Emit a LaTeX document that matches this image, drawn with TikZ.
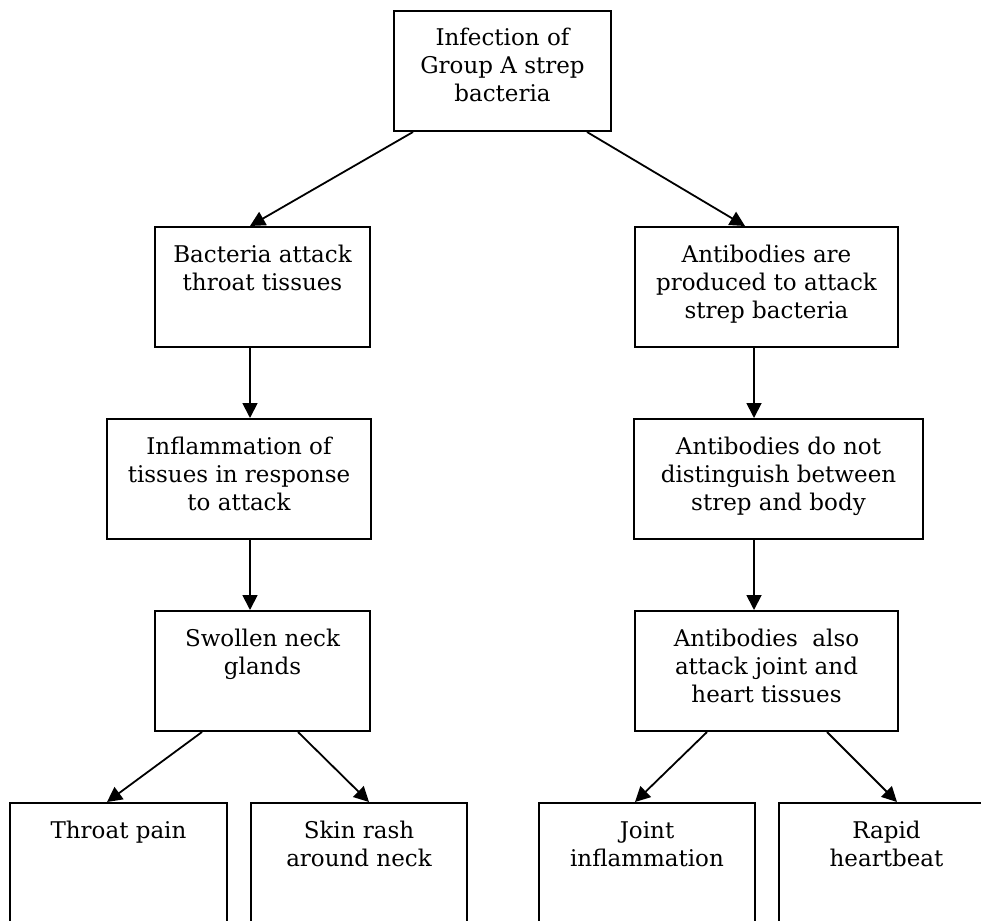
\documentclass[tikz,border=0pt]{standalone}
\usepackage{fontspec}
\setmainfont{DejaVu Serif}
\usetikzlibrary{arrows.meta}
\newcommand{\bxt}[3]{\parbox[t][#2][t]{#1}{\centering\fontsize{23pt}{28pt}\selectfont\rule{0pt}{35pt}#3\par}}
\begin{document}
\begin{tikzpicture}[x=1pt,y=-1pt,
  box/.style={draw, line width=2pt, inner sep=0pt, anchor=north west},
  arr/.style={line width=1.8pt, -{Triangle[length=15pt,width=15pt]}}]
\fill[white] (0,0) rectangle (981,920);
\useasboundingbox (0,0) rectangle (981,920);
% row 1
\node[box] (top) at (393,10) {\bxt{217pt}{120pt}{Infection of\\Group A strep\\bacteria}};
% row 2
\node[box] (bact) at (154,226) {\bxt{215pt}{120pt}{Bacteria attack\\throat tissues}};
\node[box] (ap) at (634,226) {\bxt{263pt}{120pt}{Antibodies are\\produced to attack\\strep bacteria}};
% row 3
\node[box] (infl) at (106,418) {\bxt{264pt}{120pt}{Inflammation of\\tissues in response\\to attack}};
\node[box] (dn) at (633,418) {\bxt{289pt}{120pt}{Antibodies do not\\distinguish between\\strep and body}};
% row 4
\node[box] (sw) at (154,610) {\bxt{215pt}{120pt}{Swollen neck\\glands}};
\node[box] (aa) at (634,610) {\bxt{263pt}{120pt}{Antibodies\ \ also\\attack joint and\\heart tissues}};
% row 5
\node[box] (throat) at (9,802) {\bxt{217pt}{140pt}{Throat pain}};
\node[box] (skin) at (250,802) {\bxt{216pt}{140pt}{Skin rash\\around neck}};
\node[box] (joint) at (538,802) {\bxt{216pt}{140pt}{Joint\\inflammation}};
\node[box] (rapid) at (778,802) {\bxt{215pt}{140pt}{Rapid\\heartbeat}};
% connectors
\draw[arr] ([xshift=20pt]top.south west) -- ([xshift=96pt]bact.north west);
\draw[arr] ([xshift=194pt]top.south west) -- ([xshift=111pt]ap.north west);
\draw[arr] ([xshift=96pt]bact.south west) -- ([xshift=144pt]infl.north west);
\draw[arr] ([xshift=120pt]ap.south west) -- ([xshift=121pt]dn.north west);
\draw[arr] ([xshift=144pt]infl.south west) -- ([xshift=96pt]sw.north west);
\draw[arr] ([xshift=121pt]dn.south west) -- ([xshift=120pt]aa.north west);
\draw[arr] ([xshift=48pt]sw.south west) -- ([xshift=98pt]throat.north west);
\draw[arr] ([xshift=144pt]sw.south west) -- ([xshift=119pt]skin.north west);
\draw[arr] ([xshift=73pt]aa.south west) -- ([xshift=97pt]joint.north west);
\draw[arr] ([xshift=193pt]aa.south west) -- ([xshift=119pt]rapid.north west);
\end{tikzpicture}
\end{document}
